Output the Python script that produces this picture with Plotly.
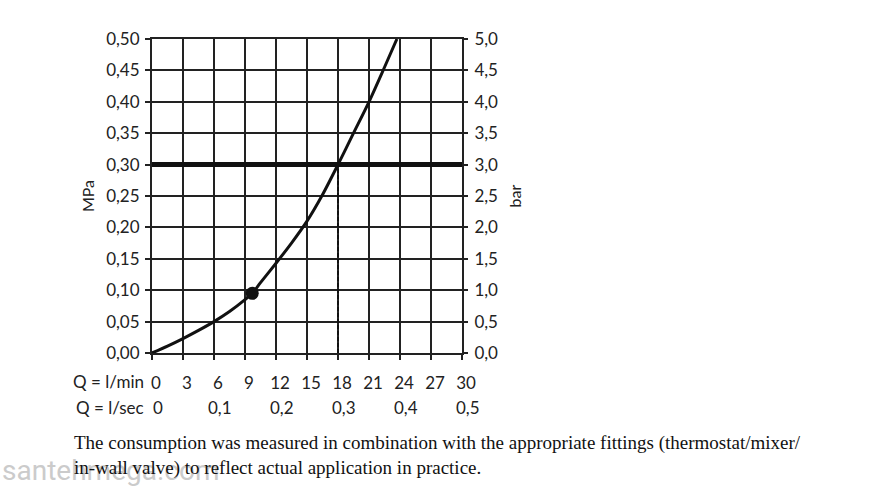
import plotly.graph_objects as go

# ---- data ----
flow_lpm = [0, 1.5, 3, 4.5, 6, 7.5, 9, 9.7, 10.5, 12, 13.5, 15, 16.5, 18, 19.5, 21, 22.5, 23.7]
pressure_mpa = [0, 0.011, 0.023, 0.036, 0.05, 0.066, 0.085, 0.095, 0.112, 0.143, 0.175, 0.21, 0.252, 0.30, 0.35, 0.40, 0.455, 0.50]
marker_point = (9.7, 0.095)
nominal_pressure = 0.30
nominal_flow = 18

x_ticks = [0, 3, 6, 9, 12, 15, 18, 21, 24, 27, 30]
x_ticktext = ["0", "3", "6", "9", "12", "15", "18", "21", "24", "27", "30"]
lsec_pos = [0, 6, 12, 18, 24, 30]
lsec_text = ["0", "0,1", "0,2", "0,3", "0,4", "0,5"]
y_ticks = [0, 0.05, 0.10, 0.15, 0.20, 0.25, 0.30, 0.35, 0.40, 0.45, 0.50]
y_ticktext = ["0,00", "0,05", "0,10", "0,15", "0,20", "0,25", "0,30", "0,35", "0,40", "0,45", "0,50"]
bar_ticks = [0, 0.5, 1, 1.5, 2, 2.5, 3, 3.5, 4, 4.5, 5]
bar_ticktext = ["0,0", "0,5", "1,0", "1,5", "2,0", "2,5", "3,0", "3,5", "4,0", "4,5", "5,0"]

note1 = "The consumption was measured in combination with the appropriate fittings (thermostat/mixer/"
note2 = "in-wall valve) to reflect actual application in practice."
watermark = "santehmega.com"

FONT = "Lato, 'Noto Sans', sans-serif"
FS = 17
PL, PT, PW, PH = 152, 39, 310, 314  # plot area in pixels


def px_x(x):
    return (x - PL) / PW


def px_y(y):
    return (PT + PH - y) / PH


fig = go.Figure()

# nominal pressure line (thick)
fig.add_trace(go.Scatter(x=[0, 30], y=[nominal_pressure, nominal_pressure], mode="lines",
                         line=dict(color="#111", width=5), hoverinfo="skip", showlegend=False))
# dashed vertical
fig.add_trace(go.Scatter(x=[nominal_flow, nominal_flow], y=[0, nominal_pressure], mode="lines",
                         line=dict(color="#111", width=2, dash="4px,2px"), hoverinfo="skip", showlegend=False))
# curve
fig.add_trace(go.Scatter(x=flow_lpm, y=pressure_mpa, mode="lines",
                         line=dict(color="#111", width=3, shape="spline", smoothing=0.8),
                         showlegend=False))
# dot
fig.add_trace(go.Scatter(x=[marker_point[0]], y=[marker_point[1]], mode="markers",
                         marker=dict(color="#111", size=13), showlegend=False))
# invisible trace for right axis
fig.add_trace(go.Scatter(x=[0, 30], y=[0, 5], yaxis="y2", mode="markers",
                         marker=dict(opacity=0), hoverinfo="skip", showlegend=False))

fig.update_layout(
    width=880, height=500,
    margin=dict(l=PL, r=880 - PL - PW, t=PT, b=500 - PT - PH),
    paper_bgcolor="white", plot_bgcolor="white",
    font=dict(family=FONT, size=FS, color="#222"),
    xaxis=dict(range=[0, 30], tickvals=x_ticks, ticktext=x_ticktext,
               showgrid=True, gridcolor="#222", gridwidth=2,
               showline=True, linecolor="#222", linewidth=2, mirror=True,
               ticks="outside", ticklen=5, tickwidth=2, tickcolor="#222",
               ticklabelshift=4, ticklabelstandoff=9, zeroline=False,
               tickfont=dict(size=FS)),
    yaxis=dict(range=[0, 0.5], tickvals=y_ticks, ticktext=y_ticktext,
               showgrid=True, gridcolor="#222", gridwidth=2,
               showline=True, linecolor="#222", linewidth=2, mirror=True,
               ticks="outside", ticklen=5, tickwidth=2, tickcolor="#222",
               zeroline=False, ticklabelstandoff=2,
               title=dict(text="MPa", standoff=8, font=dict(size=FS - 1))),
    yaxis2=dict(range=[0, 5], tickvals=bar_ticks, ticktext=bar_ticktext,
                overlaying="y", side="right", showgrid=False, zeroline=False,
                ticks="outside", ticklen=5, tickwidth=2, tickcolor="#222",
                ticklabelstandoff=3,
                title=dict(text="bar", standoff=12, font=dict(size=FS - 1))),
)

# prefix labels and l/sec row
fig.add_annotation(x=0, y=0, xref="x", yref="y", yshift=-28, xshift=-6, text="Q = l/min",
                   showarrow=False, xanchor="right", yanchor="middle", font=dict(size=FS))
fig.add_annotation(x=0, y=0, xref="x", yref="y", yshift=-54, xshift=-6, text="Q = l/sec",
                   showarrow=False, xanchor="right", yanchor="middle", font=dict(size=FS))
for p, t in zip(lsec_pos, lsec_text):
    fig.add_annotation(x=p, y=0, xref="x", yref="y", yshift=-54, xshift=6, text=t,
                       showarrow=False, xanchor="center", yanchor="middle", font=dict(size=FS))

# watermark
fig.add_annotation(x=px_x(0), y=px_y(470), xref="paper", yref="paper", xanchor="left", yanchor="middle",
                   text=watermark, showarrow=False,
                   font=dict(family="'Liberation Sans Narrow', 'Roboto', sans-serif", size=28, color="#cbcbcb"))

# footnote
for i, t in enumerate([note1, note2]):
    fig.add_annotation(x=px_x(72), y=px_y(443 + 25 * i), xref="paper", yref="paper",
                       xanchor="left", yanchor="middle", text=t, showarrow=False,
                       font=dict(family="'Liberation Serif', 'Times New Roman', serif", size=19, color="#111"))

fig.write_html("out.html")
